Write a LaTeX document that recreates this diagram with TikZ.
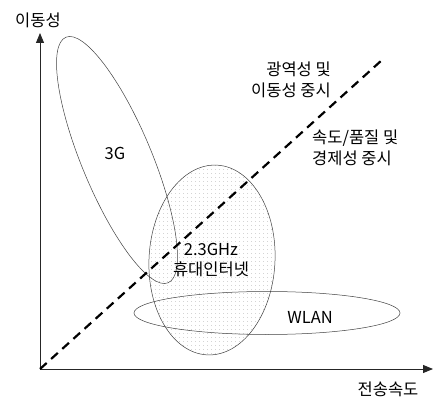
\documentclass[tikz,border=0pt]{standalone}
\usepackage{fontspec}
\setmainfont{Noto Sans CJK KR}
\usetikzlibrary{arrows.meta}
\usetikzlibrary{patterns.meta}
\tikzset{
  lbl/.style={font=\fontsize{16.5}{20.5}\selectfont,inner sep=0pt},
  zone/.style={draw=black!75,line width=0.5pt},
  axis/.style={draw=black!85,line width=0.9pt,-{Triangle[length=10pt,width=8pt]}}
}
\begin{document}
\begin{tikzpicture}[x=1pt,y=1pt]
\useasboundingbox (0,0) rectangle (434,400);
\draw[zone,pattern={Dots[radius=0.4pt,distance=4pt]},pattern color=black!40] (212,140) ellipse[x radius=63,y radius=95,rotate=-3];
\draw[zone] (117,240) ellipse[x radius=133,y radius=35,rotate=-67.4];
\draw[zone] (267,87) ellipse[x radius=133,y radius=21.5];
\coordinate (O) at (40,31);
\coordinate (ytop) at (40,367);
\coordinate (xend) at (433,31);
\coordinate (dend) at (382,340);
\draw[axis] (O) -- (ytop);
\draw[axis] (O) -- (xend);
\draw[line width=2.2pt,dash pattern=on 9pt off 6pt] (O) -- (dend);
\node[lbl] (mob) at (38,380) {이동성};
\node[lbl] (spd) at (388,11) {전송속도};
\node[lbl] (g3) at (115,247) {3G};
\node[lbl,align=center] (wibro) at (211,140) {2.3GHz\\휴대인터넷};
\node[lbl] (wlan) at (310,83) {WLAN};
\node[lbl,align=right,anchor=east] (wide) at (331,320) {광역성 및\\이동성 중시};
\node[lbl,align=left,anchor=west] (qual) at (312,252) {속도/품질 및\\경제성 중시};
\end{tikzpicture}
\end{document}
